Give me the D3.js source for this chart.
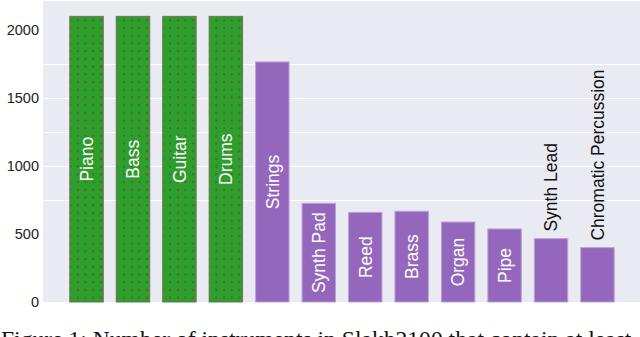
<!DOCTYPE html>
<html>
<head>
<meta charset="utf-8">
<script src="https://cdn.jsdelivr.net/npm/d3@7"></script>
<style>
  body { margin: 0; background: #fff; }
  svg { display: block; }
</style>
</head>
<body>
<div id="chart"></div>
<script>
var instruments = ["Piano", "Bass", "Guitar", "Drums", "Strings", "Synth Pad", "Reed", "Brass",
    "Organ", "Pipe", "Synth Lead", "Chromatic Percussion"];
var counts = [2100, 2100, 2100, 2100, 1765, 725, 659, 667, 588, 537, 466, 400];
var yTicks = [0, 500, 1000, 1500, 2000];
var gridValues = [750, 1000, 1250, 1500, 1750];
var outsideLabels = ["Synth Lead", "Chromatic Percussion"];
var caption = "Figure 1: Number of instruments in Slakh2100 that contain at least";

var svgWidth = 640;
var svgHeight = 337;

var margin = { top: 1, right: 0, bottom: 35, left: 43 };
var width = svgWidth - margin.left - margin.right;
var height = svgHeight - margin.top - margin.bottom;

var data = instruments.map(function(d, i) { return { name: d, value: counts[i], dense: i < 4 }; });

var svg = d3.select("#chart")
    .append("svg")
    .attr("width", svgWidth)
    .attr("height", svgHeight);

// dotted hatch for the first four bars
var defs = svg.append("defs");
var pat = defs.append("pattern")
    .attr("id", "dots")
    .attr("patternUnits", "userSpaceOnUse")
    .attr("width", 7.7)
    .attr("height", 7.7);
pat.append("rect").attr("width", 7.7).attr("height", 7.7).attr("fill", "#2ca02c");
pat.append("rect").attr("x", 3).attr("y", 3).attr("width", 2).attr("height", 2)
    .attr("fill", "#6e5535");

var chartGroup = svg.append("g")
    .attr("transform", `translate(${margin.left}, ${margin.top})`);

chartGroup.append("rect")
    .attr("width", width)
    .attr("height", height)
    .attr("fill", "#eaeaf2");

var xScale = d3.scaleBand()
    .domain(instruments)
    .range([20.3, 577.7])
    .paddingInner(0.28)
    .paddingOuter(0.14);

var yScale = d3.scaleLinear()
    .domain([0, 2213])
    .range([height, 0]);

chartGroup.selectAll(".grid")
    .data(gridValues)
    .enter()
    .append("line")
    .attr("class", "grid")
    .attr("x1", 0)
    .attr("x2", width)
    .attr("y1", d => Math.round(yScale(d)) + 0.5)
    .attr("y2", d => Math.round(yScale(d)) + 0.5)
    .attr("stroke", "#fff")
    .attr("stroke-width", 1);

var leftAxis = d3.axisLeft(yScale)
    .tickValues(yTicks)
    .tickFormat(d3.format("d"))
    .tickSize(0)
    .tickPadding(4);

var yAxis = chartGroup.append("g")
    .call(leftAxis);
yAxis.select(".domain").remove();
yAxis.selectAll("text")
    .attr("font-family", "'Liberation Sans', Arial, sans-serif")
    .attr("font-size", "14.5px")
    .attr("fill", "#222");

chartGroup.selectAll(".bar")
    .data(data)
    .enter()
    .append("rect")
    .attr("class", "bar")
    .attr("x", d => xScale(d.name))
    .attr("y", d => yScale(d.value))
    .attr("width", xScale.bandwidth())
    .attr("height", d => height - yScale(d.value))
    .attr("fill", d => d.dense ? "url(#dots)" : "#9467bd")
    .attr("stroke", d => d.dense ? "#6f7355" : "#b9a2d8")
    .attr("stroke-width", 1);

chartGroup.selectAll(".barLabel")
    .data(data)
    .enter()
    .append("text")
    .attr("class", "barLabel")
    .attr("transform", function(d) {
        var cx = xScale(d.name) + xScale.bandwidth() / 2;
        var cy;
        if (outsideLabels.indexOf(d.name) >= 0) {
            cy = yScale(d.value) - 7;
        } else {
            cy = (yScale(d.value) + height) / 2;
        }
        return `translate(${cx}, ${cy}) rotate(-90)`;
    })
    .attr("text-anchor", d => outsideLabels.indexOf(d.name) >= 0 ? "start" : "middle")
    .attr("dy", "0.36em")
    .attr("font-family", "'Liberation Sans', Arial, sans-serif")
    .attr("font-size", "17.5px")
    .attr("fill", d => outsideLabels.indexOf(d.name) >= 0 ? "#111" : "#fff")
    .text(d => d.name);

// caption is cut off by the bottom edge, as in the original
svg.append("text")
    .attr("x", 1)
    .attr("y", 347)
    .attr("font-family", "'Liberation Serif', 'Times New Roman', serif")
    .attr("font-size", "23.6px")
    .attr("fill", "#111")
    .text(caption);
</script>
</body>
</html>
